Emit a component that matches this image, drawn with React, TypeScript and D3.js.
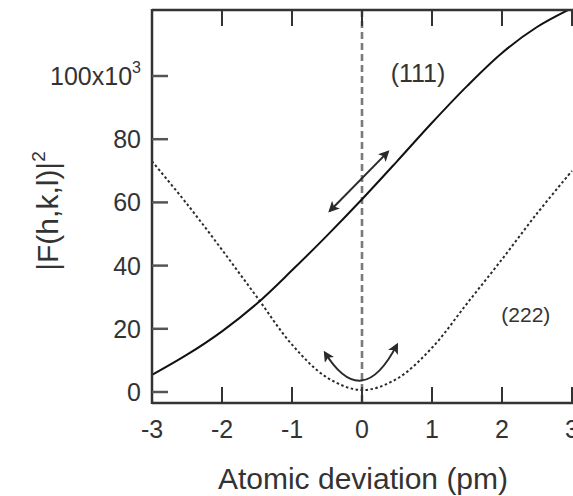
import React from "react";
import * as d3 from "d3";

const xTicks = [-3, -2, -1, 0, 1, 2, 3];
const yTicks = [0, 20, 40, 60, 80, 100];
const yTickLabels = ["0", "20", "40", "60", "80", "100x10"];

const devX = [-3, -2.5, -2, -1.5, -1, -0.5, 0, 0.5, 1, 1.5, 2, 2.5, 3];
const f111 = [5.4, 11.8, 19.2, 28, 38.5, 49.5, 61, 73, 85.2, 96.8, 107.3, 115.5, 121.5];
const f222 = [73, 59.5, 45, 30, 15, 4.6, 0.6, 4.2, 14, 28, 42, 56.5, 70];

const doubleArrow = [
  { x: -0.46, y: 57.3 },
  { x: 0.37, y: 76 },
];
const curvedArrow = [
  { x: -0.53, y: 12.5 },
  { x: 0.0, y: -6.5 },
  { x: 0.5, y: 15 },
];

const W = 573;
const H = 496;
const left = 152;
const top = 10;
const bottom = 403;

export default function App() {
  const x = d3.scaleLinear().domain([-3, 3]).range([152, 572]);
  const y = d3.scaleLinear().domain([0, 100]).range([392, 76]);

  const line = d3
    .line<number>()
    .x((_, i) => x(devX[i]))
    .y((d) => y(d))
    .curve(d3.curveCatmullRom.alpha(0.5));

  const ink = "#2a2a2a";
  const font = "'Liberation Sans', Arial, Helvetica, sans-serif";

  const da0 = doubleArrow[0];
  const da1 = doubleArrow[1];
  const [c0, c1, c2] = curvedArrow;
  const curvedPath = `M${x(c0.x)},${y(c0.y)} Q${x(c1.x)},${y(c1.y)} ${x(c2.x)},${y(c2.y)}`;

  return (
    <svg
      width={W}
      height={H}
      style={{ position: "absolute", left: 0, top: 0, background: "#fff" }}
      fontFamily={font}
    >
      <defs>
        <clipPath id="plot">
          <rect x={left} y={top} width={W - left} height={bottom - top} />
        </clipPath>
        <marker
          id="ah"
          viewBox="0 0 10 10"
          refX="8"
          refY="5"
          markerWidth="5.5"
          markerHeight="5.5"
          orient="auto-start-reverse"
          markerUnits="strokeWidth"
        >
          <path d="M0,0 L10,5 L0,10 L2.5,5 Z" fill={ink} />
        </marker>
      </defs>

      {/* zero line */}
      <line
        x1={x(0)}
        x2={x(0)}
        y1={top}
        y2={bottom}
        stroke="#7a7a7a"
        strokeWidth={2.6}
        strokeDasharray="7,4"
      />

      <g clipPath="url(#plot)">
        <path
          d={line(f222) || ""}
          fill="none"
          stroke={ink}
          strokeWidth={2}
          strokeDasharray="2.5,2.5"
        />
        <path d={line(f111) || ""} fill="none" stroke="#111" strokeWidth={2} />
      </g>

      {/* annotations */}
      <line
        x1={x(da0.x)}
        y1={y(da0.y)}
        x2={x(da1.x)}
        y2={y(da1.y)}
        stroke={ink}
        strokeWidth={2}
        markerStart="url(#ah)"
        markerEnd="url(#ah)"
      />
      <path
        d={curvedPath}
        fill="none"
        stroke={ink}
        strokeWidth={2}
        markerStart="url(#ah)"
        markerEnd="url(#ah)"
      />

      <text x={x(0.8)} y={82} fontSize={25} fill="#333" textAnchor="middle">
        (111)
      </text>
      <text x={x(2.34)} y={y(22)} fontSize={21} fill="#333" textAnchor="middle">
        (222)
      </text>

      {/* frame */}
      <line x1={left} x2={W} y1={top} y2={top} stroke="#333" strokeWidth={2.5} />
      <line x1={left} x2={W} y1={bottom} y2={bottom} stroke="#333" strokeWidth={2.5} />
      <line x1={left} x2={left} y1={top - 1} y2={bottom + 1} stroke="#333" strokeWidth={2.5} />

      {/* x ticks */}
      {xTicks.map((t) => (
        <g key={"x" + t}>
          <line x1={x(t)} x2={x(t)} y1={bottom} y2={bottom - 16} stroke="#333" strokeWidth={2} />
          <line x1={x(t)} x2={x(t)} y1={top} y2={top + 16} stroke="#333" strokeWidth={2} />
          <text x={x(t)} y={bottom + 35} fontSize={25} fill="#333" textAnchor="middle">
            {t}
          </text>
        </g>
      ))}

      {/* y ticks */}
      {yTicks.map((t, i) => (
        <g key={"y" + t}>
          <line x1={left} x2={left + 16} y1={y(t)} y2={y(t)} stroke="#555" strokeWidth={2.5} />
          <text
            x={left - 11}
            y={y(t)}
            dy="0.36em"
            fontSize={25}
            fill="#333"
            textAnchor="end"
          >
            {yTickLabels[i]}
            {t === 100 ? (
              <tspan fontSize={16} dy="-0.75em">
                3
              </tspan>
            ) : null}
          </text>
        </g>
      ))}

      {/* axis labels */}
      <text x={363} y={489} fontSize={30} fill="#333" textAnchor="middle">
        Atomic deviation (pm)
      </text>
      <text
        transform={`translate(58,211) rotate(-90)`}
        fontSize={30}
        fill="#333"
        textAnchor="middle"
      >
        |F(h,k,l)|
        <tspan fontSize={19} dy="-0.7em">
          2
        </tspan>
      </text>
    </svg>
  );
}
